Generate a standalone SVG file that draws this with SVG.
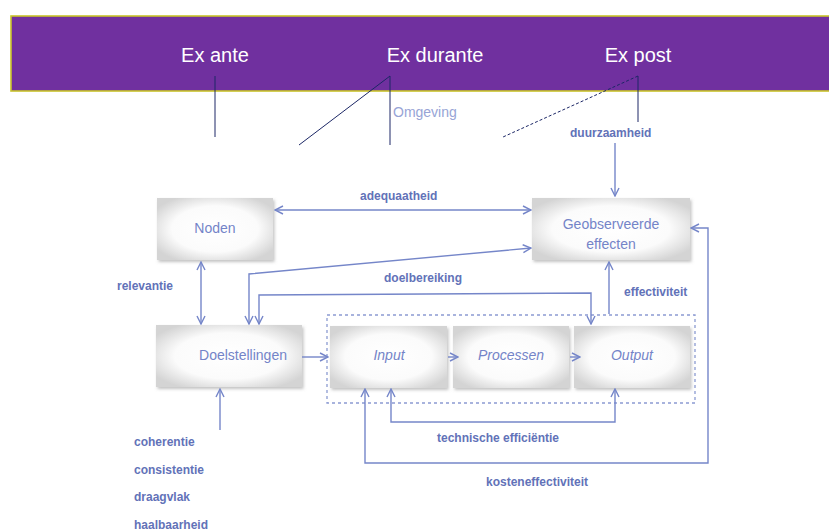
<svg xmlns="http://www.w3.org/2000/svg" width="829" height="532" viewBox="0 0 829 532">
  <defs>
    <style>
      .banner-text { font-family: "Liberation Sans", Arial, sans-serif; font-size: 20px; fill: #ffffff; text-anchor: middle; }
      .pointer { stroke: #1c2766; stroke-width: 1; fill: none; }
      .node-box { fill: url(#boxGrad); filter: url(#shadow); }
      .node-text { font-family: "Liberation Sans", Arial, sans-serif; font-size: 14px; fill: #7484c8; text-anchor: middle; }
      .italic { font-style: italic; }
      .conn { stroke: #7586c9; stroke-width: 1.4; fill: none; }
      .label { font-family: "Liberation Sans", Arial, sans-serif; font-size: 12px; font-weight: bold; fill: #6272b8; }
      .light { font-family: "Liberation Sans", Arial, sans-serif; font-size: 14px; fill: #97a4d6; }
    </style>
    <radialGradient id="boxGrad" cx="50%" cy="50%" r="60%">
      <stop offset="0%" stop-color="#ffffff"/>
      <stop offset="62%" stop-color="#fbfbfb"/>
      <stop offset="100%" stop-color="#d4d4d4"/>
    </radialGradient>
    <filter id="shadow" x="-10%" y="-10%" width="125%" height="130%">
      <feDropShadow dx="1.5" dy="2" stdDeviation="1.5" flood-color="#888888" flood-opacity="0.5"/>
    </filter>
    <marker id="arr" viewBox="0 0 10 10" refX="9" refY="5" markerWidth="10" markerHeight="10" markerUnits="userSpaceOnUse" orient="auto-start-reverse">
      <path d="M1,1 L9,5 L1,9" fill="none" stroke="#7586c9" stroke-width="1.4"/>
    </marker>
  </defs>

  <rect width="829" height="532" fill="#ffffff"/>

  <!-- Banner -->
  <g id="banner">
    <rect x="11" y="16" width="830" height="75" fill="#70309f" stroke="#c9c42a" stroke-width="1.6"/>
    <text class="banner-text" x="215" y="62">Ex ante</text>
    <text class="banner-text" x="435" y="62">Ex durante</text>
    <text class="banner-text" x="638" y="62">Ex post</text>
    <line class="pointer" x1="215" y1="76" x2="215" y2="137"/>
    <line class="pointer" x1="390" y1="76" x2="390" y2="145"/>
    <line class="pointer" x1="390" y1="76" x2="299" y2="145"/>
    <line class="pointer" x1="638" y1="76" x2="638" y2="122"/>
    <line class="pointer" x1="638" y1="76" x2="503" y2="137" stroke-dasharray="3,2"/>
  </g>

  <text id="omgeving" class="light" x="393" y="117">Omgeving</text>

  <!-- Dashed container -->
  <rect id="process-group" x="327" y="315" width="368" height="88" fill="none" stroke="#8c9bd2" stroke-width="1.3" stroke-dasharray="3,3"/>

  <!-- Nodes -->
  <g id="node-noden">
    <rect class="node-box" x="157" y="198" width="116" height="62"/>
    <text class="node-text" x="215" y="233">Noden</text>
  </g>
  <g id="node-geobserveerde">
    <rect class="node-box" x="532" y="198" width="158" height="62"/>
    <text class="node-text" x="611" y="229">Geobserveerde</text>
    <text class="node-text" x="611" y="249">effecten</text>
  </g>
  <g id="node-doelstellingen">
    <rect class="node-box" x="156" y="325" width="146" height="62"/>
    <text class="node-text" x="243" y="360">Doelstellingen</text>
  </g>
  <g id="node-input">
    <rect class="node-box" x="330" y="326" width="117" height="62"/>
    <text class="node-text italic" x="389" y="360">Input</text>
  </g>
  <g id="node-processen">
    <rect class="node-box" x="453" y="326" width="116" height="62"/>
    <text class="node-text italic" x="511" y="360">Processen</text>
  </g>
  <g id="node-output">
    <rect class="node-box" x="574" y="326" width="116" height="62"/>
    <text class="node-text italic" x="632" y="360">Output</text>
  </g>

  <!-- Connectors -->
  <g id="connectors">
    <path class="conn" d="M275,210 L531,210" marker-start="url(#arr)" marker-end="url(#arr)"/>
    <path class="conn" d="M201,262 L201,324" marker-start="url(#arr)" marker-end="url(#arr)"/>
    <path class="conn" d="M531,248 L249,274 L249,324" marker-start="url(#arr)" marker-end="url(#arr)"/>
    <path class="conn" d="M259,324 L259,295 L591,293 L591,324" marker-start="url(#arr)" marker-end="url(#arr)"/>
    <path class="conn" d="M609,314 L609,262" marker-end="url(#arr)"/>
    <path class="conn" d="M302,357 L328,357" marker-end="url(#arr)"/>
    <path class="conn" d="M448,357 L458,357" marker-end="url(#arr)"/>
    <path class="conn" d="M570,357 L580,357" marker-end="url(#arr)"/>
    <path class="conn" d="M391,389 L391,422 L615,422 L615,389" marker-start="url(#arr)" marker-end="url(#arr)"/>
    <path class="conn" d="M365,389 L365,463 L708,463 L708,228 L691,228" marker-start="url(#arr)" marker-end="url(#arr)"/>
    <path class="conn" d="M615,143 L615,196" marker-end="url(#arr)"/>
    <path class="conn" d="M220,430 L220,389" marker-end="url(#arr)"/>
  </g>

  <!-- Labels -->
  <g id="labels">
    <text class="label" x="360" y="200">adequaatheid</text>
    <text class="label" x="384" y="282">doelbereiking</text>
    <text class="label" x="117" y="290">relevantie</text>
    <text class="label" x="624" y="296">effectiviteit</text>
    <text class="label" x="570" y="137">duurzaamheid</text>
    <text class="label" x="437" y="442">technische efficiëntie</text>
    <text class="label" x="486" y="486">kosteneffectiviteit</text>
    <text class="label" x="134" y="446">coherentie</text>
    <text class="label" x="134" y="474">consistentie</text>
    <text class="label" x="134" y="501">draagvlak</text>
    <text class="label" x="134" y="529">haalbaarheid</text>
  </g>
</svg>
